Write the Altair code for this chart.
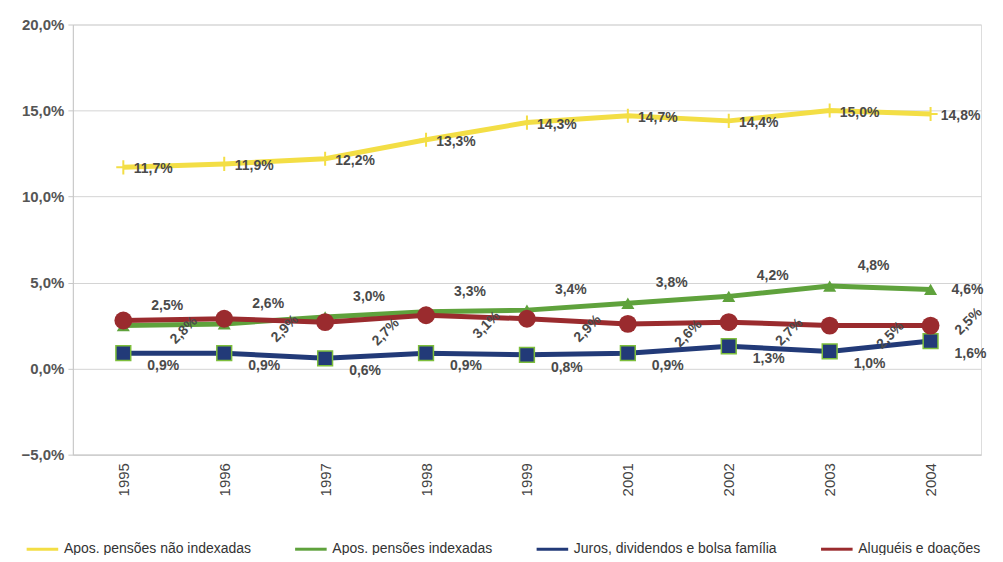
import altair as alt
import pandas as pd

years = ["1995", "1996", "1997", "1998", "1999", "2001", "2002", "2003", "2004"]
series_names = [
    "Apos. pensões não indexadas",
    "Apos. pensões indexadas",
    "Juros, dividendos e bolsa família",
    "Aluguéis e doações",
]
nao_indexadas = [11.7, 11.9, 12.2, 13.3, 14.3, 14.7, 14.4, 15.0, 14.8]
indexadas = [2.5, 2.6, 3.0, 3.3, 3.4, 3.8, 4.2, 4.8, 4.6]
juros = [0.9, 0.9, 0.6, 0.9, 0.8, 0.9, 1.3, 1.0, 1.6]
alugueis = [2.8, 2.9, 2.7, 3.1, 2.9, 2.6, 2.7, 2.5, 2.5]
colors = ["#F3DE45", "#5FA23C", "#223A78", "#9A2B2E"]
last_year = years[-1]

rows = []
for name, vals in zip(series_names, [nao_indexadas, indexadas, juros, alugueis]):
    for y, v in zip(years, vals):
        rows.append({"ano": y, "serie": name, "valor": v / 100.0,
                     "rotulo": f"{v:.1f}%".replace(".", ",")})
df = pd.DataFrame(rows)

x = alt.X("ano:O", sort=years, scale=alt.Scale(type="point", padding=0.5),
          axis=alt.Axis(title=None, labelAngle=270, labelFont="Liberation Sans",
                        labelFontSize=15, labelColor="#444", ticks=False,
                        domainColor="#c8c8c8", labelPadding=8, labelAlign="right",
                        labelBaseline="middle"))
y = alt.Y("valor:Q", scale=alt.Scale(domain=[-0.05, 0.20], nice=False),
          axis=alt.Axis(title=None, values=[-0.05, 0, 0.05, 0.10, 0.15, 0.20],
                        labelExpr="replace(format(datum.value, '.1%'), '.', ',')",
                        labelFont="Liberation Sans", labelFontSize=15,
                        labelFontWeight="bold", labelColor="#555",
                        gridColor="#d4d4d4", domainColor="#c8c8c8",
                        tickColor="#c8c8c8", tickSize=5, labelPadding=4))
color = alt.Color("serie:N", sort=series_names,
                  scale=alt.Scale(domain=series_names, range=colors),
                  legend=alt.Legend(title=None, orient="none", direction="horizontal",
                                    legendX=-48, legendY=508, symbolType="stroke",
                                    symbolSize=1000, symbolStrokeWidth=3,
                                    labelFont="Liberation Sans", labelFontSize=14,
                                    labelColor="#333", columnPadding=37,
                                    labelLimit=400))

base = alt.Chart(df)
lines = base.mark_line(strokeWidth=5).encode(x=x, y=y, color=color)

def sel(name):
    return alt.datum.serie == name

not_last = alt.datum.ano != last_year
is_last = alt.datum.ano == last_year

pts_y = base.transform_filter(sel(series_names[0])).mark_point(
    shape="M-1,0L1,0M0,-1L0,1", size=200, filled=False, color=colors[0], strokeWidth=2,
    opacity=1
).encode(x=x, y=y)
pts_g = base.transform_filter(sel(series_names[1])).mark_point(
    shape="triangle-up", size=170, filled=True, color=colors[1], opacity=1
).encode(x=x, y=y)
pts_b = base.transform_filter(sel(series_names[2])).mark_square(
    size=220, color=colors[2], stroke="#7DBE3C", strokeWidth=1.5, opacity=1
).encode(x=x, y=y)
pts_r = base.transform_filter(sel(series_names[3])).mark_circle(
    size=320, color=colors[3], opacity=1
).encode(x=x, y=y)

txt = dict(font="Liberation Sans", fontSize=14, fontWeight="bold", color="#4a4a4a")
lab_y = base.transform_filter(sel(series_names[0])).mark_text(
    align="center", baseline="middle", dx=30, dy=2, **txt).encode(x=x, y=y, text="rotulo:N")
lab_g = base.transform_filter(sel(series_names[1])).transform_filter(not_last).mark_text(
    align="center", baseline="middle", dx=44, dy=-20, **txt).encode(x=x, y=y, text="rotulo:N")
lab_g_end = base.transform_filter(sel(series_names[1])).transform_filter(is_last).mark_text(
    align="center", baseline="middle", dx=37, dy=1, **txt).encode(x=x, y=y, text="rotulo:N")
lab_b = base.transform_filter(sel(series_names[2])).mark_text(
    align="center", baseline="middle", dx=40, dy=13, **txt).encode(x=x, y=y, text="rotulo:N")
lab_r = base.transform_filter(sel(series_names[3])).transform_filter(not_last).mark_text(
    align="center", baseline="middle", angle=315, dx=36, dy=50, **txt).encode(x=x, y=y, text="rotulo:N")
lab_r_end = base.transform_filter(sel(series_names[3])).transform_filter(is_last).mark_text(
    align="center", baseline="middle", angle=315, dx=30, dy=24, **txt).encode(x=x, y=y, text="rotulo:N")

chart = alt.layer(lines, pts_y, pts_g, pts_b, pts_r, lab_r, lab_r_end, lab_b,
                  lab_g, lab_g_end, lab_y).properties(
    width=910, height=431,
    autosize=alt.AutoSizeParams(type="none"),
    padding={"left": 65, "top": 16, "right": 14, "bottom": 100},
).configure_view(stroke="#c8c8c8", strokeWidth=1).configure(background="white")

chart.save("out.html", embed_options={"renderer": "svg", "actions": False})
